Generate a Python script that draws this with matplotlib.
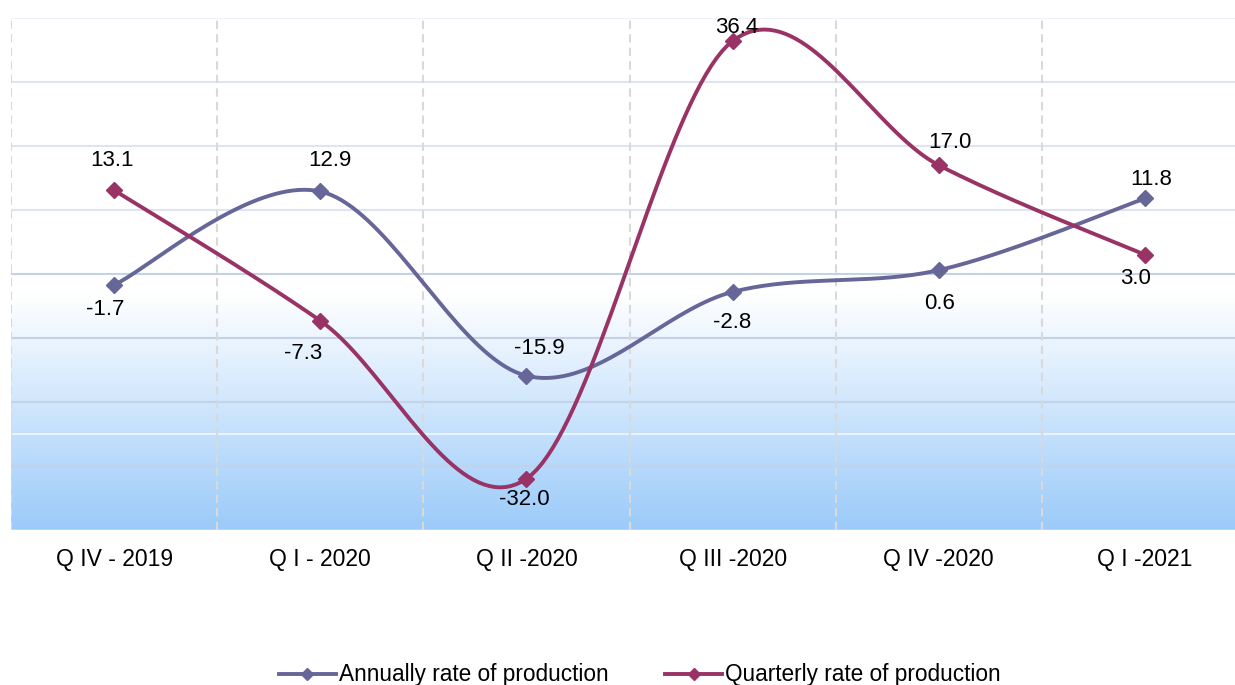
import numpy as np
import matplotlib.pyplot as plt
from matplotlib.colors import LinearSegmentedColormap

plt.rcParams['font.family'] = ['Liberation Sans', 'DejaVu Sans']

# Data
quarters = ['Q IV - 2019', 'Q I - 2020', 'Q II -2020', 'Q III -2020', 'Q IV -2020', 'Q I -2021']
annual = [-1.7, 12.9, -15.9, -2.8, 0.6, 11.8]
quarterly = [13.1, -7.3, -32.0, 36.4, 17.0, 3.0]

# label offsets in pixels (dx, dy)
annual_off = [(-9, -25), (10, 31), (13, 27), (0, -31), (1, -33), (6, 19)]
quarterly_off = [(-2, 30), (-17, -33), (-2, -21), (4, 14), (11, 23), (-9, -24)]

c_annual = '#666699'
c_quarterly = '#993366'


def smooth(y, n=40):
    # Catmull-Rom style bezier smoothing (like Excel's smoothed line)
    x = np.arange(len(y), dtype=float)
    y = np.asarray(y, dtype=float)
    pts = np.column_stack([x, y])
    ext = np.vstack([pts[0], pts, pts[-1]])
    out = []
    t = np.linspace(0, 1, n)[:, None]
    for i in range(len(pts) - 1):
        p0, p1, p2, p3 = ext[i], ext[i + 1], ext[i + 2], ext[i + 3]
        c1 = p1 + (p2 - p0) / 6
        c2 = p2 - (p3 - p1) / 6
        seg = ((1 - t) ** 3) * p1 + 3 * ((1 - t) ** 2) * t * c1 + 3 * (1 - t) * t ** 2 * c2 + t ** 3 * p2
        out.append(seg if i == 0 else seg[1:])
    out = np.vstack(out)
    return out[:, 0], out[:, 1]


fig = plt.figure(figsize=(12.35, 6.85), dpi=100)
ax = fig.add_axes([11 / 1235, 155 / 685, 1237 / 1235, 512 / 685])
ax.set_xlim(-0.5, 5.5)
ax.set_ylim(-40, 40)

# gradient background in lower half
cmap = LinearSegmentedColormap.from_list('bg', ['#9BCBFA', '#FFFFFF'])
grad = np.linspace(0, 1, 256).reshape(-1, 1)
ax.imshow(grad, extent=(-0.5, 5.5, -40, -3), origin='lower', cmap=cmap,
          aspect='auto', zorder=0)

for yv in range(-40, 41, 10):
    col = '#EEF2F8' if yv == 40 else ('#DCE5F1' if yv > 0 else '#C3D2E6')
    ax.axhline(yv, color=col, lw=1.5, zorder=1)
ax.axhline(-25, color='white', lw=1.2, alpha=0.8, zorder=1)
for xv in np.arange(-0.5, 5.6, 1):
    ax.axvline(xv, color='#D9D9D9', lw=1.5, ls=(0, (4, 2.5)), zorder=1)

x = np.arange(len(quarters))
for vals, col, offs, lab in [(annual, c_annual, annual_off, 'Annually rate of production'),
                             (quarterly, c_quarterly, quarterly_off, 'Quarterly rate of production')]:
    sx, sy = smooth(vals)
    ax.plot(sx, sy, color=col, lw=2.8, zorder=3, solid_capstyle='round')
    ax.plot(x, vals, ls='none', marker='D', ms=8.5, color=col, zorder=4)
    ax.plot([], [], color=col, lw=2.8, marker='D', ms=6, label=lab)
    for xi, v, (dx, dy) in zip(x, vals, offs):
        ax.annotate(f'{v:.1f}', (xi, v), xytext=(dx, dy), textcoords='offset pixels',
                    ha='center', va='center', fontsize=16, color='black', zorder=5)

ax.set_xticks(x)
ax.set_xticklabels(quarters, fontsize=16.5)
ax.tick_params(axis='x', length=0, pad=13)
ax.set_yticks([])
for s in ax.spines.values():
    s.set_visible(False)

fig.legend(loc='center', bbox_to_anchor=(640 / 1235, 10 / 685), ncol=2, frameon=False,
           fontsize=16.3, handlelength=2.5, handletextpad=0.15, columnspacing=2.5)

fig.savefig('out.png', dpi=100)
